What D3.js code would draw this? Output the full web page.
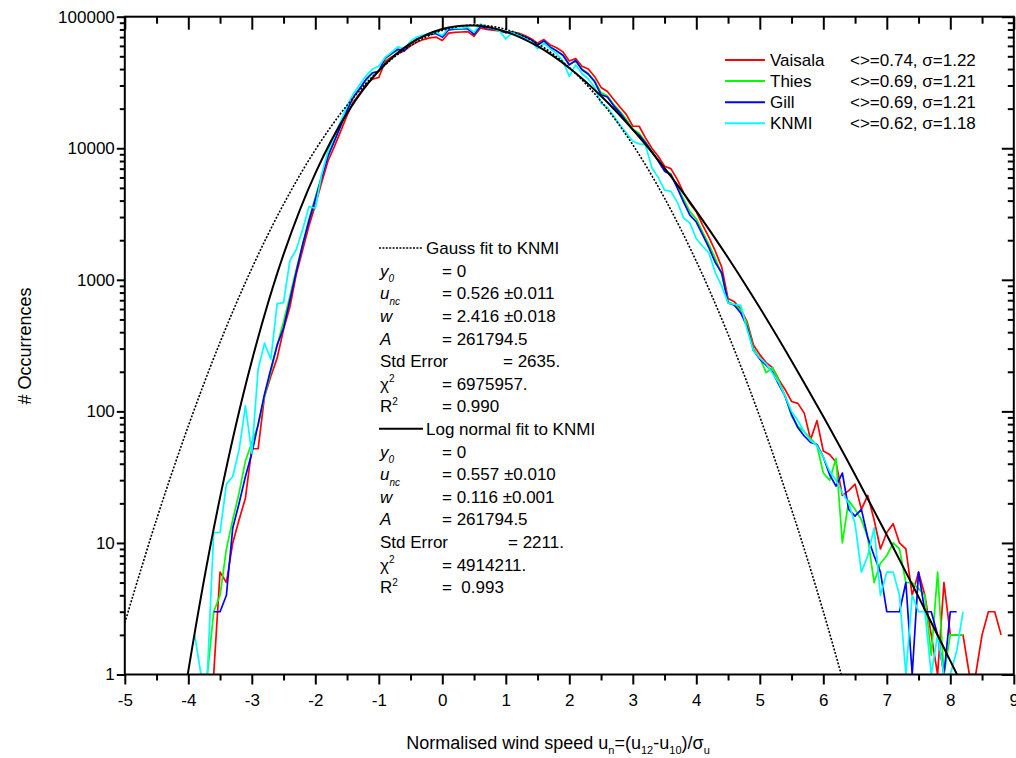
<!DOCTYPE html>
<html><head><meta charset="utf-8">
<script src="https://cdn.jsdelivr.net/npm/d3@7"></script>
<style>body{margin:0;background:#fff}svg{display:block}</style>
</head><body>
<svg id="chart" width="1016" height="758"></svg>
<script>
// ---------------- data ----------------
const bins = [-3.9,-3.8,-3.7,-3.6,-3.5,-3.4,-3.3,-3.2,-3.1,-3.0,
 -2.9,-2.8,-2.7,-2.6,-2.5,-2.4,-2.3,-2.2,-2.1,-2.0,
 -1.9,-1.8,-1.7,-1.6,-1.5,-1.4,-1.3,-1.2,-1.1,-1.0,
 -0.9,-0.8,-0.7,-0.6,-0.5,-0.4,-0.3,-0.2,-0.1,0.0,
 0.1,0.2,0.3,0.4,0.5,0.6,0.7,0.8,0.9,1.0,
 1.1,1.2,1.3,1.4,1.5,1.6,1.7,1.8,1.9,2.0,
 2.1,2.2,2.3,2.4,2.5,2.6,2.7,2.8,2.9,3.0,
 3.1,3.2,3.3,3.4,3.5,3.6,3.7,3.8,3.9,4.0,
 4.1,4.2,4.3,4.4,4.5,4.6,4.7,4.8,4.9,5.0,
 5.1,5.2,5.3,5.4,5.5,5.6,5.7,5.8,5.9,6.0,
 6.1,6.2,6.3,6.4,6.5,6.6,6.7,6.8,6.9,7.0,
 7.1,7.2,7.3,7.4,7.5,7.6,7.7,7.8,7.9,8.0,
 8.1,8.2,8.3,8.4,8.5,8.6,8.7,8.8];

const vaisala = [null,null,null,0,6,5,10,15,22,52,
 52,130,185,255,420,620,1100,1680,2570,3700,
 5500,8000,10300,13500,17800,22600,26000,30500,33500,34500,
 45700,49500,52500,55000,60000,64000,67000,69000,70000,66000,
 75000,76000,76500,77000,71000,82000,80000,79000,78000,76000,
 76500,75000,72000,68000,63000,67000,61000,58000,54000,46000,
 48000,42000,40000,35000,29000,27000,23500,20500,18000,14700,
 14700,12000,10000,8700,7300,7000,5800,4600,3800,3300,
 2600,2100,1650,1250,720,680,600,480,320,270,
 235,215,174,146,119,115,97,61,85,50,
 47,41,23,25,28,18,23,15,9,12,
 14,10,9,4,6,4,2,0,5,2,
 2,2,0,0,2,3,3,2];

const thies = [null,null,0,3,4,9,15,24,42,58,
 78,130,200,320,480,750,1200,1850,2900,4200,
 6200,8800,11500,15000,19500,24500,28500,33000,37000,38500,
 48000,52000,56000,57000,63500,68000,71000,73000,74500,71000,
 80000,81000,81000,81500,74000,85000,82500,81000,79500,76000,
 77000,74000,70500,66000,61000,65000,58500,55000,51000,43500,
 46000,40000,37000,32500,26500,25000,21500,19000,16500,14000,
 13000,11200,9500,8100,6800,6400,5100,4100,3300,2900,
 2300,1850,1450,1100,680,650,590,460,300,255,
 197,215,170,130,92,77,70,62,55,34,
 30,44,10,21,18,15,11,5,7,8,
 10,9,5,5,4.5,4,1.4,6,0,2,
 2,2,null,null,null,null,null,null];

const gill = [null,null,null,3,3,4,13,20,32,48,
 80,135,210,320,430,700,1150,1850,2800,4100,
 6000,8700,11300,14800,19500,24500,28500,33500,37500,38500,
 48500,52500,56500,55000,63000,68000,71000,73500,74500,70000,
 79500,80500,81000,81000,73500,84500,82000,80500,79000,75500,
 76500,73500,70500,66500,61000,65500,58500,55000,51000,43000,
 46500,39500,36500,32000,25500,24500,21000,18500,16000,13800,
 12600,11000,9400,8000,6700,6300,5000,3900,3100,2750,
 2200,1750,1350,1130,670,640,560,440,290,250,
 225,200,160,130,95,75,65,58,56,45,
 33,27,34,18,16,18,11,8,6,3,
 3,3,5,0,6,3,3,2,0,3,
 3,null,null,null,null,null,null,null];

const knmi = [2,0,0,12,12,28,32,51,110,48,
 210,330,250,660,670,1400,1700,2400,3600,3500,
 6300,9500,12500,16000,21000,26000,30500,35500,40000,42000,
 49000,53500,59000,57000,65000,70000,72500,74500,76000,72000,
 82000,81500,82000,83000,76000,88000,83000,81000,78000,67700,
 76000,72000,68500,65000,57000,63000,57000,52500,46000,35200,
 43000,37000,33500,29000,22000,20500,17500,15000,13000,11300,
 10800,10600,7100,6000,4800,4700,3900,2950,2700,2050,
 1800,1600,1130,900,668,650,640,420,290,255,
 230,195,165,130,100,85,70,60,55,45,
 35,30,24,20,14,6,8,13,4,6,
 6,4,0,4,3,3,0,2,1,0,
 1.5,3,null,null,null,null,null,null];

const gaussX = [-5,-4.5,-4,-3.5,-3,-2.5,-2,-1.5,-1,-0.5,0,0.5,1,1.5,2,2.5,3,3.5,4,4.5,5,5.5,6,6.5];
const gaussY = [2.47,15.1,77.4,335,1221,3753,9714,21200,38940,60290,78630,86440,80080,62480,41070,22750,10620,4177,1384,386,90.9,18.0,3.01,0.42];
const lognX = [-4.5,-4,-3.5,-3,-2.5,-2,-1.5,-1,-0.5,0,0.5,1,1.5,2,2.5,3,3.5,4,4.5,5,5.5,6,6.5,7,7.5,8,8.5,9];
const lognY = [0.0225,1.06,22.2,242,1559,6451,18490,38850,62670,80720,85650,76880,59650,40770,24950,13850,7054,3332,1472,613,242,91.3,33.0,11.5,3.89,1.27,0.41,0.127];

const seriesNames = ["Vaisala","Thies","Gill","KNMI"];
const seriesStats = ["<>=0.74, \u03C3=1.22","<>=0.69, \u03C3=1.21","<>=0.69, \u03C3=1.21","<>=0.62, \u03C3=1.18"];
const seriesColors = ["#ff0000","#00ff00","#0000ff","#00ffff"];
const seriesValues = [vaisala, thies, gill, knmi];

const xTicks = [-5,-4,-3,-2,-1,0,1,2,3,4,5,6,7,8,9];
const yTicks = [1,10,100,1000,10000,100000];

// ---------------- layout ----------------
const L = 124.8, R = 1013.8, T = 16.7, B = 674.5;
const FONT = '"Liberation Sans", Arial, Helvetica, sans-serif';
const FS = 17;
const TFS = 18;

const x = d3.scaleLinear().domain([-5, 9]).range([L, R]);
const y = d3.scaleLog().domain([1, 1e5]).range([B, T]);

const svg = d3.select("#chart").style("font-family", FONT);
svg.append("rect").attr("width", 1016).attr("height", 758).attr("fill", "#fff");

svg.append("defs").append("clipPath").attr("id", "plotclip")
  .append("rect").attr("x", L).attr("y", T).attr("width", R - L).attr("height", B - T);

const plot = svg.append("g").attr("clip-path", "url(#plotclip)");

// data series
const dataLine = d3.line()
  .defined(d => d[1] != null)
  .x(d => x(d[0]))
  .y(d => y(Math.max(d[1], 1)));

seriesValues.forEach((vals, i) => {
  const pts = bins.map((b, j) => [b, vals[j]]);
  plot.append("path").datum(pts)
    .attr("d", dataLine)
    .attr("fill", "none")
    .attr("stroke", seriesColors[i])
    .attr("stroke-width", 1.7)
    .attr("stroke-linejoin", "round");
});

// fits
const fitLine = d3.line().x(d => x(d[0])).y(d => y(d[1])).curve(d3.curveCatmullRom.alpha(0.5));
plot.append("path").datum(gaussX.map((v, i) => [v, gaussY[i]]))
  .attr("d", fitLine).attr("fill", "none").attr("stroke", "#000")
  .attr("stroke-width", 1.6).attr("stroke-dasharray", "2,1.6");
plot.append("path").datum(lognX.map((v, i) => [v, lognY[i]]))
  .attr("d", fitLine).attr("fill", "none").attr("stroke", "#000")
  .attr("stroke-width", 2);

// ---------------- axes ----------------
const xMinor = xTicks.slice(0, -1).map(v => v + 0.5);
const yMinor = [];
yTicks.slice(0, -1).forEach(v => { for (let k = 2; k <= 9; k++) yMinor.push(v * k); });

function styleAxis(g) {
  g.select(".domain").remove();
  g.selectAll(".tick line").attr("stroke", "#000").attr("stroke-width", 2);
  g.selectAll(".tick text").attr("fill", "#000").style("font-family", FONT).style("font-size", FS + "px");
}

// bottom (outward, labelled)
svg.append("g").attr("transform", `translate(0,${B})`)
  .call(d3.axisBottom(x).tickValues(xTicks).tickSize(10).tickPadding(9).tickFormat(d => String(d)))
  .call(styleAxis);
svg.append("g").attr("transform", `translate(0,${B})`)
  .call(d3.axisBottom(x).tickValues(xMinor).tickSize(6).tickFormat(""))
  .call(styleAxis);
// top (inward)
svg.append("g").attr("transform", `translate(0,${T})`)
  .call(d3.axisBottom(x).tickValues(xTicks).tickSize(13).tickFormat(""))
  .call(styleAxis);
svg.append("g").attr("transform", `translate(0,${T})`)
  .call(d3.axisBottom(x).tickValues(xMinor).tickSize(7).tickFormat(""))
  .call(styleAxis);
// left (outward, labelled)
svg.append("g").attr("transform", `translate(${L},0)`)
  .call(d3.axisLeft(y).tickValues(yTicks).tickSize(8).tickPadding(2).tickFormat(d => String(d)))
  .call(styleAxis);
svg.append("g").attr("transform", `translate(${L},0)`)
  .call(d3.axisLeft(y).tickValues(yMinor).tickSize(5).tickFormat(""))
  .call(styleAxis);
// right (inward)
svg.append("g").attr("transform", `translate(${R},0)`)
  .call(d3.axisRight(y).tickValues(yTicks).tickSize(-12).tickFormat(""))
  .call(styleAxis);
svg.append("g").attr("transform", `translate(${R},0)`)
  .call(d3.axisRight(y).tickValues(yMinor).tickSize(-6).tickFormat(""))
  .call(styleAxis);

// frame
svg.append("rect").attr("x", L).attr("y", T).attr("width", R - L).attr("height", B - T)
  .attr("fill", "none").attr("stroke", "#000").attr("stroke-width", 2);

// axis titles
const xt = svg.append("text").attr("x", 558).attr("y", 749).attr("text-anchor", "middle")
  .style("font-size", TFS + "px").attr("fill", "#000");
xt.append("tspan").text("Normalised wind speed u");
xt.append("tspan").attr("dy", 5).style("font-size", "11px").text("n");
xt.append("tspan").attr("dy", -5).text("=(u");
xt.append("tspan").attr("dy", 5).style("font-size", "11px").text("12");
xt.append("tspan").attr("dy", -5).text("-u");
xt.append("tspan").attr("dy", 5).style("font-size", "11px").text("10");
xt.append("tspan").attr("dy", -5).text(")/\u03C3");
xt.append("tspan").attr("dy", 5).style("font-size", "11px").text("u");

svg.append("text").attr("transform", "translate(31,346) rotate(-90)")
  .attr("text-anchor", "middle").style("font-size", TFS + "px").attr("fill", "#000")
  .text("# Occurrences");

// legend
seriesNames.forEach((name, i) => {
  const yy = 60 + i * 21.1;
  svg.append("line").attr("x1", 725).attr("x2", 765).attr("y1", yy).attr("y2", yy)
    .attr("stroke", seriesColors[i]).attr("stroke-width", 2);
  svg.append("text").attr("x", 770).attr("y", yy).attr("dy", "0.36em")
    .style("font-size", FS + "px").text(name);
  svg.append("text").attr("x", 850).attr("y", yy).attr("dy", "0.36em")
    .style("font-size", FS + "px").text(seriesStats[i]);
});

// fit annotation
const gaussParams = ["= 0", "= 0.526 \u00B10.011", "= 2.416 \u00B10.018", "= 261794.5", "= 2635.", "= 6975957.", "= 0.990"];
const lognParams  = ["= 0", "= 0.557 \u00B10.010", "= 0.116 \u00B10.001", "= 261794.5", "= 2211.", "= 4914211.", "=  0.993"];

const ann = svg.append("g").style("font-size", FS + "px").attr("fill", "#000");
const rowH = 22.6;
function label(g, kind, yy) {
  const t = g.append("text").attr("x", 380).attr("y", yy).attr("dy", "0.36em").attr("xml:space", "preserve");
  if (kind === 0) { t.append("tspan").style("font-style", "italic").text("y");
    t.append("tspan").attr("dy", 5).style("font-style", "italic").style("font-size", "10px").text("0"); }
  if (kind === 1) { t.append("tspan").style("font-style", "italic").text("u");
    t.append("tspan").attr("dy", 6).style("font-style", "italic").style("font-size", "10px").text("nc"); }
  if (kind === 2) t.append("tspan").style("font-style", "italic").text("w");
  if (kind === 3) t.append("tspan").style("font-style", "italic").text("A");
  if (kind === 4) t.text("Std Error");
  if (kind === 5) { t.append("tspan").text("\u03C7");
    t.append("tspan").attr("dy", -8).style("font-size", "10px").text("2"); }
  if (kind === 6) { t.append("tspan").text("R");
    t.append("tspan").attr("dy", -7).style("font-size", "10px").text("2"); }
}
function block(y0, title, dashed, params, stdX) {
  ann.append("line").attr("x1", 379).attr("x2", 423).attr("y1", y0).attr("y2", y0)
    .attr("stroke", "#000").attr("stroke-width", dashed ? 1.5 : 2)
    .attr("stroke-dasharray", dashed ? "2,1.4" : null);
  ann.append("text").attr("x", 426).attr("y", y0).attr("dy", "0.36em").text(title);
  params.forEach((p, k) => {
    const yy = y0 + (k + 1) * rowH;
    label(ann, k, yy);
    ann.append("text").attr("x", k === 4 ? stdX : 442).attr("y", yy).attr("dy", "0.36em")
      .attr("xml:space", "preserve").text(p);
  });
}
block(248, "Gauss fit to KNMI", true, gaussParams, 503);
block(248 + 8 * rowH, "Log normal fit to KNMI", false, lognParams, 508);
</script>
</body></html>
